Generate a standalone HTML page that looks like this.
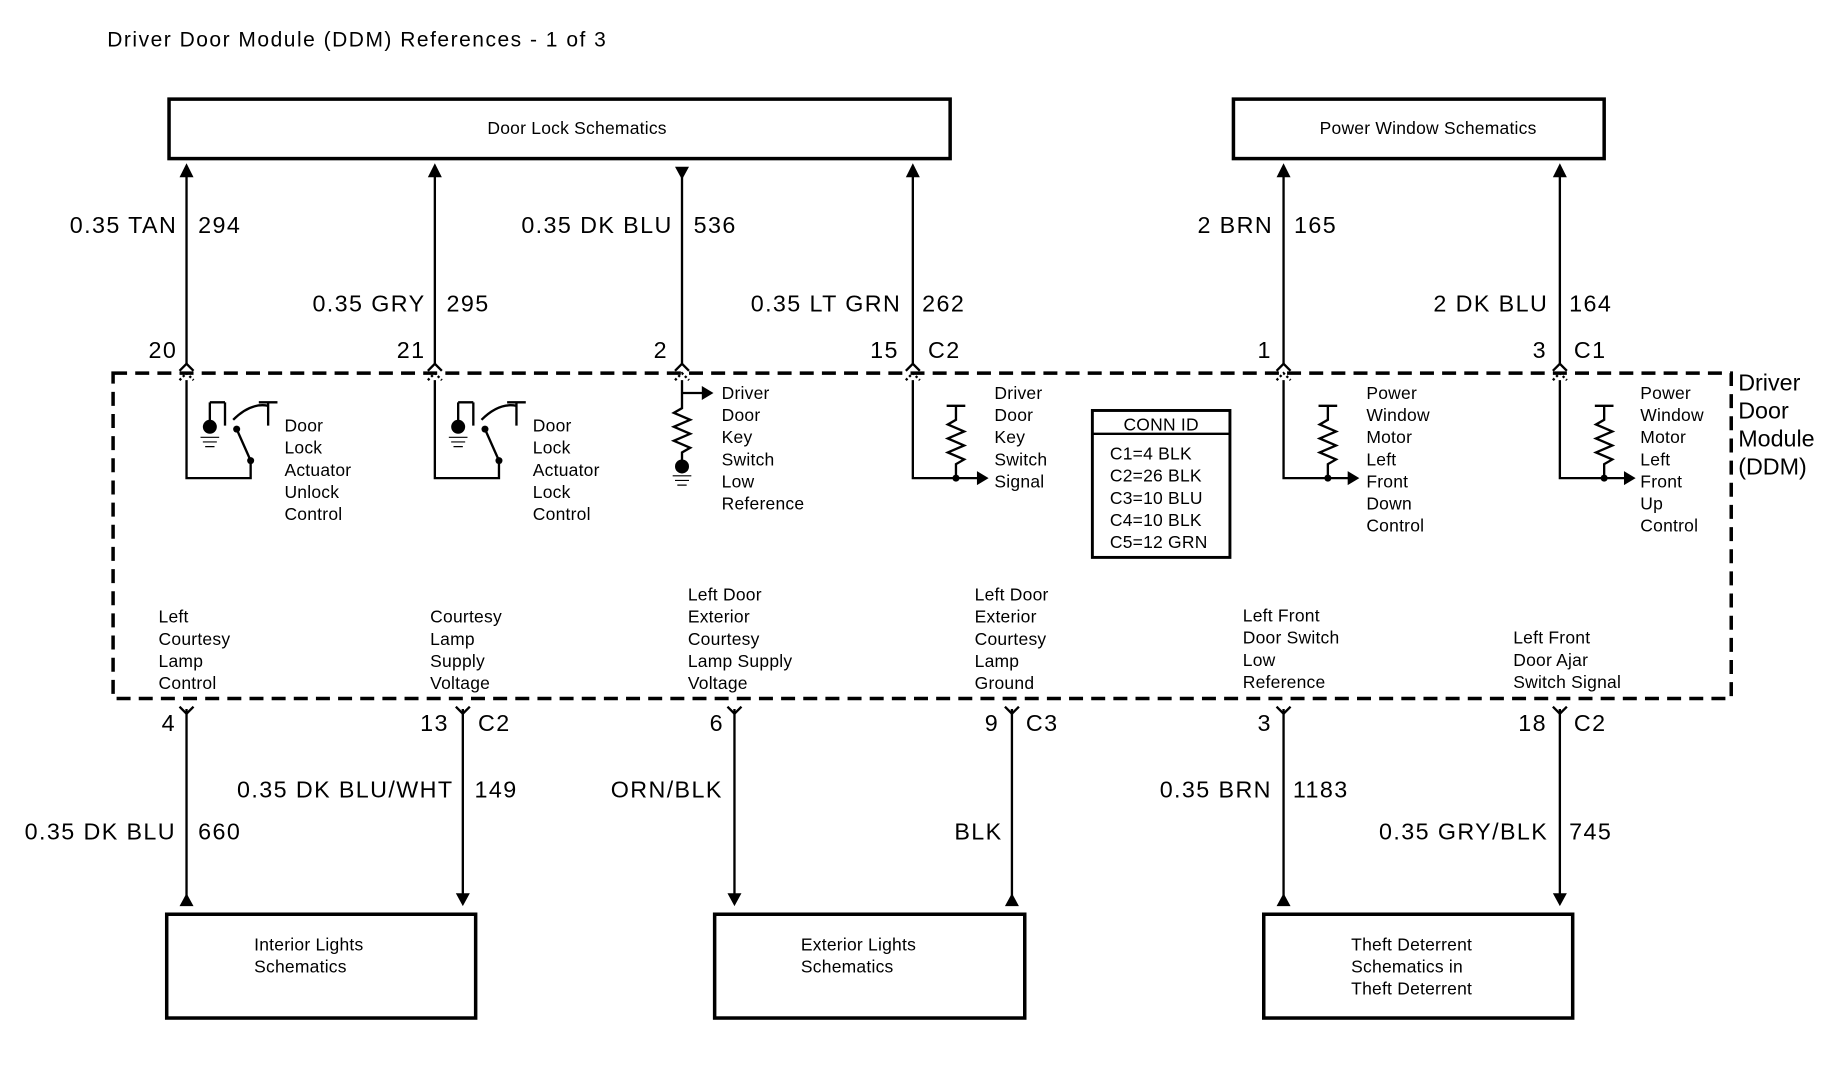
<!DOCTYPE html>
<html><head><meta charset="utf-8"><style>
html,body{margin:0;padding:0;background:#fff;}
svg{display:block;}
text{font-family:"Liberation Sans",Arial,sans-serif;fill:#000;}
.w{font-size:20px;letter-spacing:1.2px;}
.s{font-size:15px;letter-spacing:0.2px;}
.e{text-anchor:end;}
</style></head><body>
<svg width="1828" height="1088" viewBox="0 0 1568 933" preserveAspectRatio="none" xmlns="http://www.w3.org/2000/svg">
<g stroke="#000" fill="none" stroke-width="2">
<text x="92" y="40" style="font-size:18px;letter-spacing:1.3px" stroke="none">Driver Door Module (DDM) References - 1 of 3</text>
<rect x="145" y="85" width="670" height="51" stroke-width="3"/>
<rect x="1058" y="85" width="318" height="51" stroke-width="3"/>
<rect x="143" y="784" width="265" height="89" stroke-width="3"/>
<rect x="613" y="784" width="266" height="89" stroke-width="3"/>
<rect x="1084" y="784" width="265" height="89" stroke-width="3"/>
<rect x="97" y="320" width="1388" height="279" stroke-width="3" stroke-dasharray="12,7"/>
<rect x="937" y="352" width="118" height="126" stroke-width="2.5"/>
<line x1="937" y1="372" x2="1055" y2="372"/>
<path d="M160 312V150M373 312V150M585 312V152M783 312V150M1101 312V150M1338 312V150"/>
<path d="M160 608V772M397 608V768M630 608V768M868 608V772M1101 608V772M1338 608V768"/>
<path d="M154 318l6-6 6 6M367 318l6-6 6 6M579 318l6-6 6 6M777 318l6-6 6 6M1095 318l6-6 6 6M1332 318l6-6 6 6"/>
<path d="M154 326l6-6 6 6M367 326l6-6 6 6M579 326l6-6 6 6M777 326l6-6 6 6M1095 326l6-6 6 6M1332 326l6-6 6 6" stroke-dasharray="2,2"/>
<path d="M154 606l6 6 6-6M391 606l6 6 6-6M624 606l6 6 6-6M862 606l6 6 6-6M1095 606l6 6 6-6M1332 606l6 6 6-6"/>
<path d="M160 326V410H215V395M203 368L215 395M180 345V370M193 345V365M180 345H193"/>
<path d="M200 360Q215 345 230 348M230 345V365M222 345H238"/>
<path d="M373 326V410H428V395M416 368L428 395M393 345V370M406 345V365M393 345H406"/>
<path d="M413 360Q428 345 443 348M443 345V365M435 345H451"/>
<path d="M585 326V350l-7 4 14 6-14 6 14 6-14 6 14 6-7 4V398M585 337H605"/>
<path d="M783 326V410H840M820 348V360l-7 4 14 6-14 6 14 6-14 6 14 6-7 4V410M812 348H828"/>
<path d="M1101 326V410H1158M1139 348V360l-7 4 14 6-14 6 14 6-14 6 14 6-7 4V410M1131 348H1147"/>
<path d="M1338 326V410H1395M1376 348V360l-7 4 14 6-14 6 14 6-14 6 14 6-7 4V410M1368 348H1384"/>
</g>
<g fill="#000">
<circle cx="180" cy="366" r="6"/><circle cx="393" cy="366" r="6"/><circle cx="585" cy="400" r="6"/>
<circle cx="203" cy="368" r="3"/><circle cx="215" cy="395" r="3"/><circle cx="416" cy="368" r="3"/><circle cx="428" cy="395" r="3"/>
<circle cx="820" cy="410" r="3"/><circle cx="1139" cy="410" r="3"/><circle cx="1376" cy="410" r="3"/>
<path d="M154 152l6-12 6 12zM367 152l6-12 6 12zM777 152l6-12 6 12zM1095 152l6-12 6 12zM1332 152l6-12 6 12zM579 143l6 11 6-11z"/>
<path d="M612 337l-10-6v12zM848 410l-10-6v12zM1166 410l-10-6v12zM1403 410l-10-6v12z"/>
<path d="M154 777l6-11 6 11zM862 777l6-11 6 11zM1095 777l6-11 6 11zM391 766l6 11 6-11zM624 766l6 11 6-11zM1332 766l6 11 6-11z"/>
</g>
<g stroke="#000" stroke-width="1" fill="none">
<path d="M172 375H188M174 379H186M176 383H184M385 375H401M387 379H399M389 383H397M577 408H593M579 412H591M581 416H589"/>
</g>
<text class="s" x="495" y="115" text-anchor="middle">Door Lock Schematics</text>
<text class="s" x="1225" y="115" text-anchor="middle">Power Window Schematics</text>
<g>
<text x="152" y="200" class="e w">0.35 TAN</text><text x="170" y="200" class="w">294</text>
<text x="365" y="267" class="e w">0.35 GRY</text><text x="383" y="267" class="w">295</text>
<text x="577" y="200" class="e w">0.35 DK BLU</text><text x="595" y="200" class="w">536</text>
<text x="773" y="267" class="e w">0.35 LT GRN</text><text x="791" y="267" class="w">262</text>
<text x="1092" y="200" class="e w">2 BRN</text><text x="1110" y="200" class="w">165</text>
<text x="1328" y="267" class="e w">2 DK BLU</text><text x="1346" y="267" class="w">164</text>
<text x="152" y="307" class="e w">20</text><text x="365" y="307" class="e w">21</text><text x="573" y="307" class="e w">2</text>
<text x="771" y="307" class="e w">15</text><text x="796" y="307" class="w">C2</text>
<text x="1091" y="307" class="e w">1</text><text x="1327" y="307" class="e w">3</text><text x="1350" y="307" class="w">C1</text>
<text x="151" y="627" class="e w">4</text><text x="385" y="627" class="e w">13</text><text x="410" y="627" class="w">C2</text>
<text x="621" y="627" class="e w">6</text><text x="857" y="627" class="e w">9</text><text x="880" y="627" class="w">C3</text>
<text x="1091" y="627" class="e w">3</text><text x="1327" y="627" class="e w">18</text><text x="1350" y="627" class="w">C2</text>
<text x="151" y="720" class="e w">0.35 DK BLU</text><text x="170" y="720" class="w">660</text>
<text x="389" y="684" class="e w">0.35 DK BLU/WHT</text><text x="407" y="684" class="w">149</text>
<text x="620" y="684" class="e w">ORN/BLK</text>
<text x="860" y="720" class="e w">BLK</text>
<text x="1091" y="684" class="e w">0.35 BRN</text><text x="1109" y="684" class="w">1183</text>
<text x="1328" y="720" class="e w">0.35 GRY/BLK</text><text x="1346" y="720" class="w">745</text>
<text x="1491" y="335" style="font-size:20px">Driver</text><text x="1491" y="359" style="font-size:20px">Door</text><text x="1491" y="383" style="font-size:20px">Module</text><text x="1491" y="407" style="font-size:20px">(DDM)</text>
</g>
<g>
<text class="s" x="244" y="370">Door</text><text class="s" x="244" y="389">Lock</text><text class="s" x="244" y="408">Actuator</text><text class="s" x="244" y="427">Unlock</text><text class="s" x="244" y="446">Control</text>
<text class="s" x="457" y="370">Door</text><text class="s" x="457" y="389">Lock</text><text class="s" x="457" y="408">Actuator</text><text class="s" x="457" y="427">Lock</text><text class="s" x="457" y="446">Control</text>
<text class="s" x="619" y="342">Driver</text><text class="s" x="619" y="361">Door</text><text class="s" x="619" y="380">Key</text><text class="s" x="619" y="399">Switch</text><text class="s" x="619" y="418">Low</text><text class="s" x="619" y="437">Reference</text>
<text class="s" x="853" y="342">Driver</text><text class="s" x="853" y="361">Door</text><text class="s" x="853" y="380">Key</text><text class="s" x="853" y="399">Switch</text><text class="s" x="853" y="418">Signal</text>
<text class="s" x="1172" y="342">Power</text><text class="s" x="1172" y="361">Window</text><text class="s" x="1172" y="380">Motor</text><text class="s" x="1172" y="399">Left</text><text class="s" x="1172" y="418">Front</text><text class="s" x="1172" y="437">Down</text><text class="s" x="1172" y="456">Control</text>
<text class="s" x="1407" y="342">Power</text><text class="s" x="1407" y="361">Window</text><text class="s" x="1407" y="380">Motor</text><text class="s" x="1407" y="399">Left</text><text class="s" x="1407" y="418">Front</text><text class="s" x="1407" y="437">Up</text><text class="s" x="1407" y="456">Control</text>
<text class="s" x="996" y="369" text-anchor="middle">CONN ID</text>
<text class="s" x="952" y="394">C1=4 BLK</text><text class="s" x="952" y="413">C2=26 BLK</text><text class="s" x="952" y="432">C3=10 BLU</text><text class="s" x="952" y="451">C4=10 BLK</text><text class="s" x="952" y="470">C5=12 GRN</text>
<text class="s" x="136" y="534">Left</text><text class="s" x="136" y="553">Courtesy</text><text class="s" x="136" y="572">Lamp</text><text class="s" x="136" y="591">Control</text>
<text class="s" x="369" y="534">Courtesy</text><text class="s" x="369" y="553">Lamp</text><text class="s" x="369" y="572">Supply</text><text class="s" x="369" y="591">Voltage</text>
<text class="s" x="590" y="515">Left Door</text><text class="s" x="590" y="534">Exterior</text><text class="s" x="590" y="553">Courtesy</text><text class="s" x="590" y="572">Lamp Supply</text><text class="s" x="590" y="591">Voltage</text>
<text class="s" x="836" y="515">Left Door</text><text class="s" x="836" y="534">Exterior</text><text class="s" x="836" y="553">Courtesy</text><text class="s" x="836" y="572">Lamp</text><text class="s" x="836" y="591">Ground</text>
<text class="s" x="1066" y="533">Left Front</text><text class="s" x="1066" y="552">Door Switch</text><text class="s" x="1066" y="571">Low</text><text class="s" x="1066" y="590">Reference</text>
<text class="s" x="1298" y="552">Left Front</text><text class="s" x="1298" y="571">Door Ajar</text><text class="s" x="1298" y="590">Switch Signal</text>
<text class="s" x="218" y="815">Interior Lights</text><text class="s" x="218" y="834">Schematics</text>
<text class="s" x="687" y="815">Exterior Lights</text><text class="s" x="687" y="834">Schematics</text>
<text class="s" x="1159" y="815">Theft Deterrent</text><text class="s" x="1159" y="834">Schematics in</text><text class="s" x="1159" y="853">Theft Deterrent</text>
</g>
</svg>
</body></html>
